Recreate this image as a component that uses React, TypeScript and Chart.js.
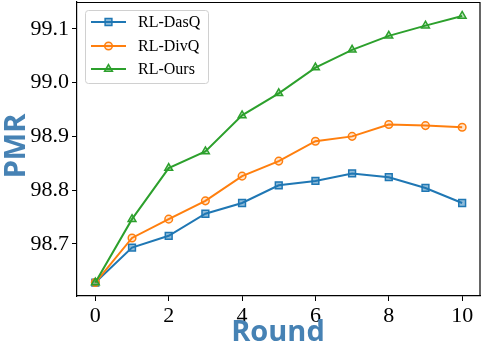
import React, { useEffect, useRef } from "react";
import { Chart, registerables } from "chart.js";
import { drawPoint } from "chart.js/helpers";

Chart.register(...registerables);

const rounds = [0, 1, 2, 3, 4, 5, 6, 7, 8, 9, 10];
const dasQ = [98.628, 98.693, 98.715, 98.756, 98.776, 98.809, 98.817, 98.831, 98.824, 98.804, 98.776];
const divQ = [98.628, 98.711, 98.746, 98.780, 98.826, 98.854, 98.891, 98.900, 98.922, 98.920, 98.917];
const ours = [98.628, 98.746, 98.841, 98.872, 98.939, 98.980, 99.028, 99.061, 99.087, 99.106, 99.124];
const seriesNames = ["RL-DasQ", "RL-DivQ", "RL-Ours"];
const xTicks = [0, 2, 4, 6, 8, 10];
const yTicks = [98.7, 98.8, 98.9, 99.0, 99.1];

const COLORS = ["#1f77b4", "#ff7f0e", "#2ca02c"];
const FILLS = ["rgba(31,119,180,0.5)", "rgba(255,127,14,0.2)", "rgba(44,160,44,0.3)"];
const STYLES: any[] = ["rect", "circle", "triangle"];
const RADII = [4.8, 3.8, 4.5];

const toXY = (arr: number[]) => arr.map((v, i) => ({ x: rounds[i], y: v }));

const overlay = {
  id: "overlay",
  afterDraw(chart: any) {
    const ctx = chart.ctx;
    const a = chart.chartArea;
    ctx.save();
    // top/right spines
    ctx.strokeStyle = "#000";
    ctx.lineWidth = 1.2;
    ctx.beginPath();
    ctx.moveTo(a.left, a.top + 0.5);
    ctx.lineTo(a.right - 0.5, a.top + 0.5);
    ctx.lineTo(a.right - 0.5, a.bottom);
    ctx.stroke();

    // legend
    const lx = 85, ly = 10, lw = 123, lh = 73;
    ctx.fillStyle = "rgba(255,255,255,0.85)";
    ctx.strokeStyle = "#d0d0d0";
    ctx.lineWidth = 1;
    ctx.beginPath();
    if (ctx.roundRect) ctx.roundRect(lx + 0.5, ly + 0.5, lw, lh, 3);
    else ctx.rect(lx + 0.5, ly + 0.5, lw, lh);
    ctx.fill();
    ctx.stroke();
    const rows = [22, 46, 69];
    for (let i = 0; i < 3; i++) {
      const y = rows[i];
      ctx.strokeStyle = COLORS[i];
      ctx.lineWidth = 2;
      ctx.beginPath();
      ctx.moveTo(91, y);
      ctx.lineTo(126, y);
      ctx.stroke();
      ctx.fillStyle = FILLS[i];
      ctx.strokeStyle = COLORS[i];
      ctx.lineWidth = 1.5;
      drawPoint(ctx, { pointStyle: STYLES[i], radius: RADII[i], rotation: 0, borderWidth: 1.5 } as any, 108.5, y);
      ctx.fillStyle = "#000";
      ctx.font = "16px 'Liberation Serif'";
      ctx.textAlign = "left";
      ctx.textBaseline = "middle";
      ctx.fillText(seriesNames[i], 138, y + 1);
    }

    // axis titles
    ctx.fillStyle = "#4682b4";
    ctx.font = "bold 29px 'Open Sans'";
    ctx.textAlign = "center";
    ctx.textBaseline = "middle";
    ctx.fillText("Round", 278, 333);
    ctx.translate(17, 146);
    ctx.rotate(-Math.PI / 2);
    ctx.fillText("PMR", 0, 0);
    ctx.restore();
  },
};

export default function App() {
  const ref = useRef<HTMLCanvasElement>(null);
  useEffect(() => {
    const data = [dasQ, divQ, ours];
    const chart = new Chart(ref.current!, {
      type: "line",
      data: {
        datasets: data.map((d, i) => ({
          label: seriesNames[i],
          data: toXY(d),
          borderColor: COLORS[i],
          backgroundColor: FILLS[i],
          pointBackgroundColor: FILLS[i],
          pointBorderColor: COLORS[i],
          pointStyle: STYLES[i],
          pointRadius: RADII[i],
          pointBorderWidth: 1.5,
          borderWidth: 2,
          order: 2 - i,
          tension: 0,
          clip: false,
        })),
      },
      options: {
        animation: false,
        responsive: false,
        events: [],
        layout: { autoPadding: false, padding: { top: 2, right: 1.5, left: 0, bottom: 0 } },
        plugins: { legend: { display: false }, tooltip: { enabled: false } },
        scales: {
          x: {
            type: "linear",
            min: -0.5,
            max: 10.5,
            afterBuildTicks: (s: any) => {
              s.ticks = xTicks.map((v) => ({ value: v }));
            },
            afterFit: (s: any) => {
              s.height = 54;
              s.paddingLeft = 0;
              s.paddingRight = 0;
            },
            grid: { display: true, drawOnChartArea: false, drawTicks: true, tickLength: 5, color: "#000", tickWidth: 1 },
            border: { display: true, color: "#000", width: 1.2 },
            ticks: {
              color: "#000",
              font: { family: "'Liberation Serif'", size: 22 },
              padding: 2,
              maxRotation: 0,
              callback: (v: any) => String(v),
            },
          },
          y: {
            type: "linear",
            min: 98.603,
            max: 99.15,
            afterBuildTicks: (s: any) => {
              s.ticks = yTicks.map((v) => ({ value: v }));
            },
            afterFit: (s: any) => {
              s.width = 77;
              s.paddingTop = 0;
              s.paddingBottom = 0;
            },
            grid: { display: true, drawOnChartArea: false, drawTicks: true, tickLength: 5, color: "#000", tickWidth: 1 },
            border: { display: true, color: "#000", width: 1.2 },
            ticks: {
              color: "#000",
              font: { family: "'Liberation Serif'", size: 22 },
              padding: 3,
              callback: (v: any) => Number(v).toFixed(1),
            },
          },
        },
      },
      plugins: [overlay],
    });
    return () => chart.destroy();
  }, []);
  return (
    <div style={{ position: "fixed", left: 0, top: 0, width: 482, height: 350, background: "#fff" }}>
      <canvas ref={ref} width={482} height={350} style={{ display: "block", width: 482, height: 350 }} />
    </div>
  );
}
